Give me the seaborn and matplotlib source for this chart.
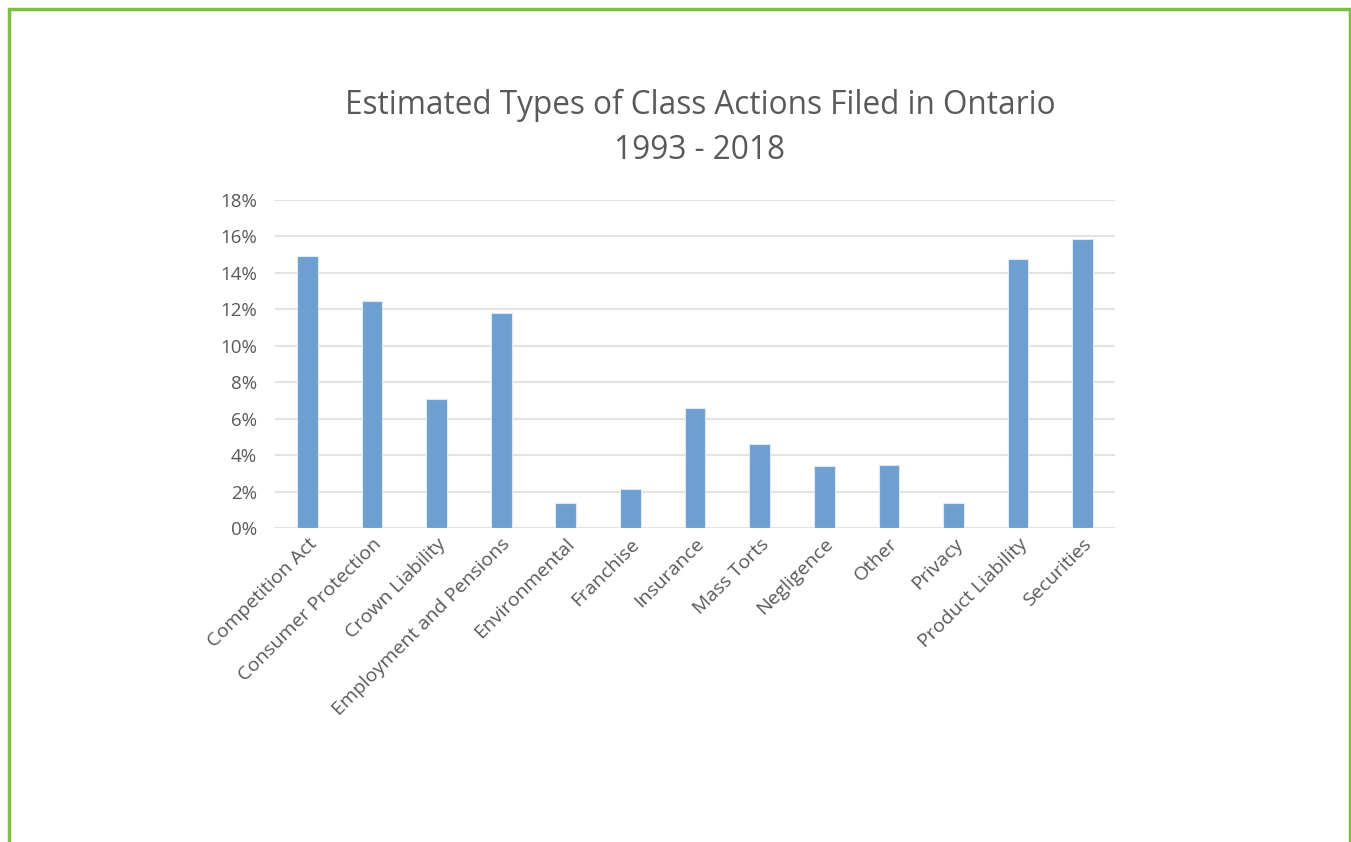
import numpy as np
import pandas as pd
import matplotlib
matplotlib.use('Agg')
import matplotlib.pyplot as plt
import seaborn as sns
from matplotlib.patches import Rectangle
from matplotlib.ticker import PercentFormatter

# data (share of class actions filed, %)
categories = ['Competition Act', 'Consumer Protection', 'Crown Liability',
              'Employment and Pensions', 'Environmental', 'Franchise',
              'Insurance', 'Mass Torts', 'Negligence', 'Other', 'Privacy',
              'Product Liability', 'Securities']
shares = [14.9, 12.45, 7.06, 11.78, 1.39, 2.14, 6.57, 4.59, 3.39, 3.48, 1.39, 14.78, 15.84]
yticks = [0, 2, 4, 6, 8, 10, 12, 14, 16, 18]

df = pd.DataFrame({'Type': categories, 'Share': shares})

sns.set_style('white')
plt.rcParams['font.family'] = ['Open Sans', 'DejaVu Sans']
text_col = '#595959'

fig = plt.figure(figsize=(13.51, 8.42), dpi=100)
ax = fig.add_axes([0.2036, 0.3729, 0.6217, 0.3896])

sns.barplot(data=df, x='Type', y='Share', color='#6E9FD1', saturation=1,
            width=0.32, edgecolor='#dfe9f5', linewidth=0.8, ax=ax, zorder=3)

ax.set_ylim(0, 18)
ax.set_xlim(-0.5, len(categories) - 0.5)
ax.set_yticks(yticks)
ax.yaxis.set_major_formatter(PercentFormatter(decimals=0))
ax.grid(axis='y', color='#e3e3e3', linewidth=1.5, zorder=0)
ax.grid(axis='x', visible=False)
sns.despine(ax=ax, left=True, bottom=True, top=True, right=True)
ax.set_xlabel('')
ax.set_ylabel('')
ax.tick_params(axis='both', length=0, colors=text_col)
ax.tick_params(axis='y', pad=13, labelsize=13.5)
ax.tick_params(axis='x', pad=5, labelsize=14)
plt.setp(ax.get_xticklabels(), rotation=45, ha='right', rotation_mode='anchor')

fig.text(0.518, 0.848, 'Estimated Types of Class Actions Filed in Ontario\n1993 - 2018',
         ha='center', va='center', fontsize=22.7, color=text_col, linespacing=1.45)

# green frame around the chart (bottom runs off the image)
fig.patches.append(Rectangle((8.5 / 1351, -0.05), (1349.5 - 8.5) / 1351, 1.05 - 8.5 / 842,
                             transform=fig.transFigure, fill=False,
                             edgecolor='#7DBE45', linewidth=2.5))

fig.savefig('out.png', dpi=100, facecolor='white')
